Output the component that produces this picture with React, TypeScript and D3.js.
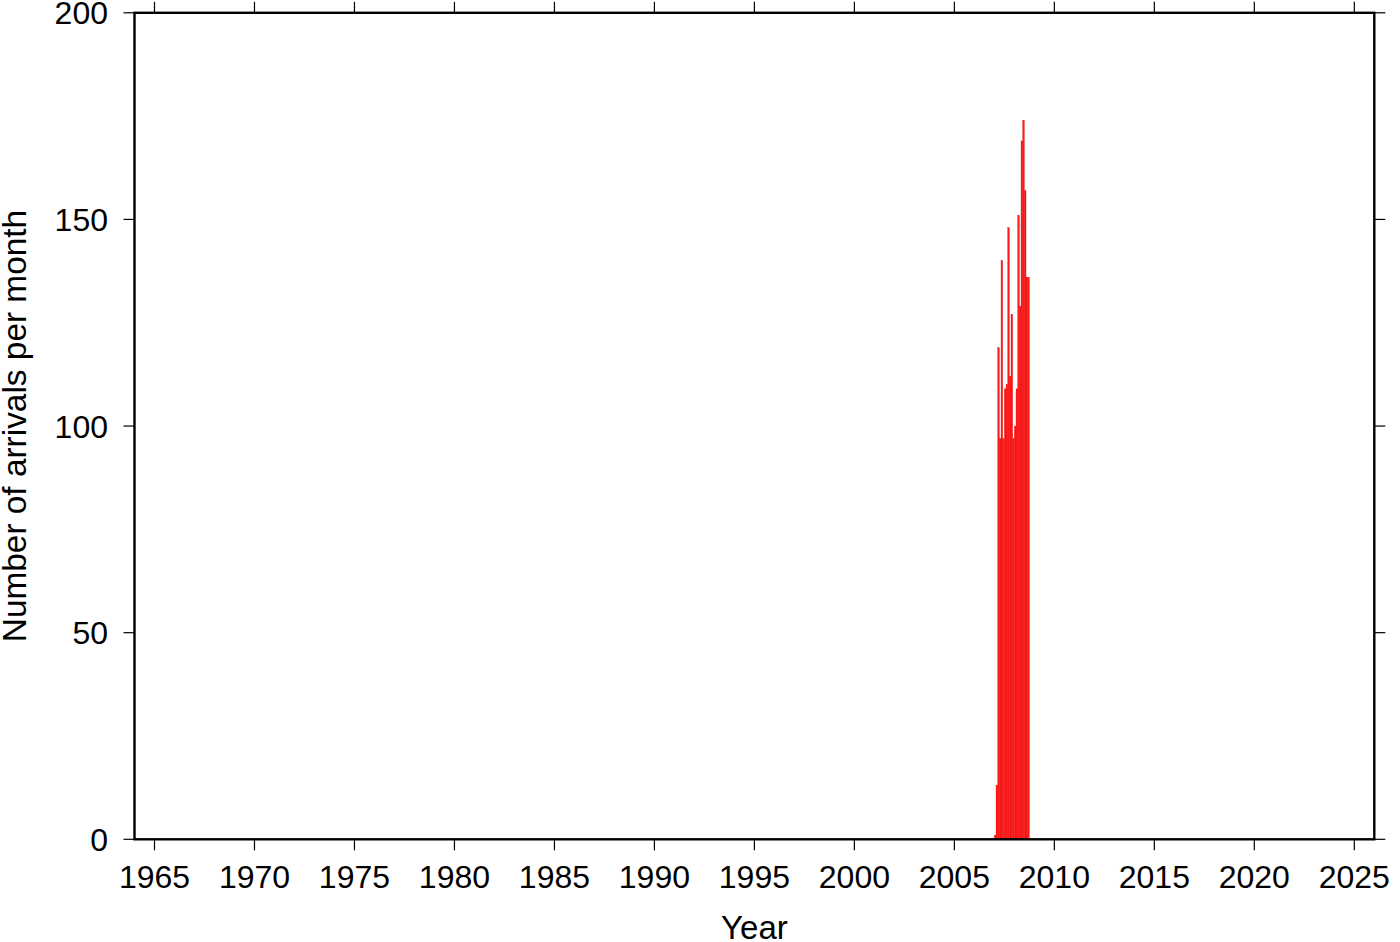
import React from "react";
import * as d3 from "d3";

const startYear = 2007;
const monthlyCounts = [1, 13, 119, 97, 140, 97, 109, 110, 148, 112, 127, 97, 100, 109, 151, 129, 169, 174, 157, 136, 136];
const xTicks = [1965, 1970, 1975, 1980, 1985, 1990, 1995, 2000, 2005, 2010, 2015, 2020, 2025];
const yTicks = [0, 50, 100, 150, 200];
const xLabel = "Year";
const yLabel = "Number of arrivals per month";

const W = 1400;
const H = 942;
const L = 134.5, R = 1374.3, T = 12.8, B = 839.3;
const FONT = "'Liberation Sans', Arial, Helvetica, sans-serif";

export default function App() {
  const x = d3.scaleLinear().domain([1964, 2026]).range([L, R]);
  const y = d3.scaleLinear().domain([0, 200]).range([B, T]);
  const bars = monthlyCounts.map((v, i) => ({ t0: startYear + i / 12, t1: startYear + (i + 1) / 12, v }));
  const tick = 11;
  return (
    <svg width={W} height={H} style={{ position: "absolute", left: 0, top: 0, background: "#fff" }}>
      <rect x={0} y={0} width={W} height={H} fill="#fff" />
      {bars.map((b, i) => (
        <rect key={i} x={x(b.t0)} y={y(b.v)} width={x(b.t1) - x(b.t0)} height={y(0) - y(b.v)}
          fill="#ff1a1a" stroke="#e00000" strokeWidth={0.3} />
      ))}
      {xTicks.map((t) => (
        <g key={t}>
          <line x1={x(t)} x2={x(t)} y1={B} y2={B + tick} stroke="#000" strokeWidth={1.2} />
          <line x1={x(t)} x2={x(t)} y1={T} y2={T - tick} stroke="#000" strokeWidth={1.2} />
          <text x={x(t)} y={888} textAnchor="middle" fontFamily={FONT} fontSize={32}>{t}</text>
        </g>
      ))}
      {yTicks.map((t) => (
        <g key={t}>
          <line x1={L} x2={L - tick} y1={y(t)} y2={y(t)} stroke="#000" strokeWidth={1.2} />
          <line x1={R} x2={R + tick} y1={y(t)} y2={y(t)} stroke="#000" strokeWidth={1.2} />
          <text x={108} y={y(t)} dy="0.36em" textAnchor="end" fontFamily={FONT} fontSize={32}>{t}</text>
        </g>
      ))}
      <rect x={L} y={T} width={R - L} height={B - T} fill="none" stroke="#000" strokeWidth={2.4} />
      <text x={(L + R) / 2} y={939} textAnchor="middle" fontFamily={FONT} fontSize={33}>{xLabel}</text>
      <text transform={`translate(25.5,${(T + B) / 2}) rotate(-90)`} textAnchor="middle" fontFamily={FONT} fontSize={33.4}>{yLabel}</text>
    </svg>
  );
}
